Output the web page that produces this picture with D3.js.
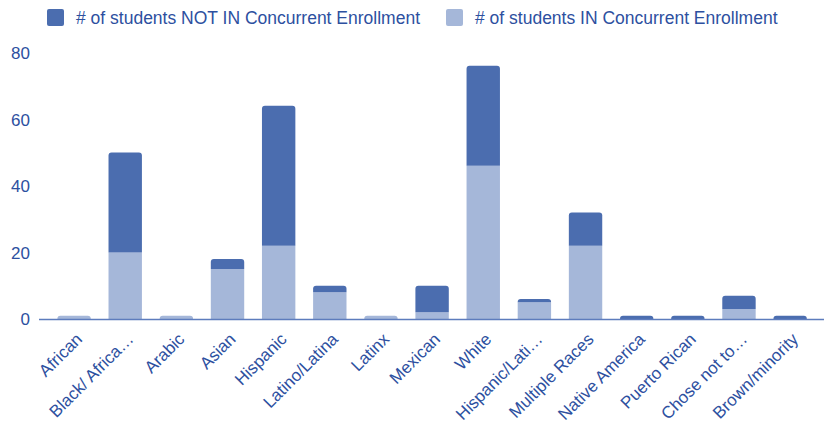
<!DOCTYPE html>
<html>
<head>
<meta charset="utf-8">
<script src="https://cdn.jsdelivr.net/npm/d3@7"></script>
<style>
  html, body { margin: 0; padding: 0; background: #fff; }
  svg { display: block; }
  text { font-family: "Liberation Sans", Arial, sans-serif; }
</style>
</head>
<body>
<svg id="chart" width="833" height="424"></svg>
<script>
// Student counts by ethnicity, split by concurrent enrollment status
const categories = [
  "African", "Black/ Africa…", "Arabic", "Asian", "Hispanic", "Latino/Latina",
  "Latinx", "Mexican", "White", "Hispanic/Lati…", "Multiple Races",
  "Native America", "Puerto Rican", "Chose not to…", "Brown/minority"
];
const inEnrollment    = [1, 20, 1, 15, 22, 8, 1, 2, 46, 5, 22, 0, 0, 3, 0];
const notInEnrollment = [0, 30, 0, 3, 42, 2, 0, 8, 30, 1, 10, 1, 1, 4, 1];
const yTicks = [0, 20, 40, 60, 80];
const seriesNames = [
  "# of students NOT IN Concurrent Enrollment",
  "# of students IN Concurrent Enrollment"
];

const colorNot = "#4b6daf";
const colorIn = "#a5b7d9";
const textColor = "#2d509f";
const axisColor = "#5d7cbd";

const svg = d3.select("#chart");

const x = d3.scaleBand()
  .domain(categories)
  .range([48.5, 815.7])
  .paddingInner(0.347)
  .paddingOuter(0.1735);

const y = d3.scaleLinear().domain([0, 80]).range([319, 52.5]);

// stacked series: IN at the bottom, NOT IN on top
const rows = categories.map((c, i) => ({ cat: c, inE: inEnrollment[i], notE: notInEnrollment[i] }));
const stack = d3.stack().keys(["inE", "notE"]);
const layers = stack(rows);
const colors = { inE: colorIn, notE: colorNot };

// bar segment path with optional rounded top corners
function segPath(x0, w, yTop, yBot, r) {
  const h = yBot - yTop;
  r = Math.min(r, h, w / 2);
  if (r <= 0) return `M${x0},${yBot}V${yTop}H${x0 + w}V${yBot}Z`;
  return `M${x0},${yBot}V${yTop + r}Q${x0},${yTop} ${x0 + r},${yTop}` +
         `H${x0 + w - r}Q${x0 + w},${yTop} ${x0 + w},${yTop + r}V${yBot}Z`;
}

const bars = svg.append("g");
layers.forEach((layer, li) => {
  layer.forEach((d, i) => {
    if (d[1] - d[0] <= 0) return;
    // top segment of the stack gets rounded corners
    const isTop = layers.slice(li + 1).every(l => l[i][1] - l[i][0] <= 0);
    bars.append("path")
      .attr("d", segPath(x(d.data.cat), x.bandwidth(), y(d[1]), y(d[0]), isTop ? 3 : 0))
      .attr("fill", colors[layer.key]);
  });
});

// y axis labels
const yAxis = d3.axisLeft(y).tickValues(yTicks).tickSize(0).tickPadding(0);
const yg = svg.append("g").attr("transform", "translate(30,0)").call(yAxis);
yg.select(".domain").remove();
yg.selectAll("text")
  .attr("fill", textColor)
  .attr("font-size", "17px")
  .attr("dy", "0.35em")
  .style("font-family", "'Liberation Sans', Arial, sans-serif");

// baseline
svg.append("line")
  .attr("x1", 39).attr("x2", 824)
  .attr("y1", y(0) + 0.5).attr("y2", y(0) + 0.5)
  .attr("stroke", axisColor).attr("stroke-width", 1.5);

// x axis labels, rotated
const xAxis = d3.axisBottom(x).tickSize(0).tickPadding(0);
const xg = svg.append("g").attr("transform", `translate(0,${y(0)})`).call(xAxis);
xg.select(".domain").remove();
xg.selectAll("text")
  .attr("fill", textColor)
  .attr("font-size", "17px")
  .attr("text-anchor", "end")
  .attr("dy", "0.35em")
  .attr("transform", "translate(5,17) rotate(-45)")
  .style("font-family", "'Liberation Sans', Arial, sans-serif");

// legend
const legend = svg.append("g");
const legendItems = [
  { name: seriesNames[0], color: colorNot, x: 47 },
  { name: seriesNames[1], color: colorIn, x: 446 }
];
legendItems.forEach(it => {
  legend.append("rect")
    .attr("x", it.x).attr("y", 9).attr("width", 17).attr("height", 17)
    .attr("rx", 2).attr("fill", it.color);
  legend.append("text")
    .attr("x", it.x + 29).attr("y", 17.5).attr("dy", "0.35em")
    .attr("fill", textColor).attr("font-size", "17.5px")
    .text(it.name);
});
</script>
</body>
</html>
